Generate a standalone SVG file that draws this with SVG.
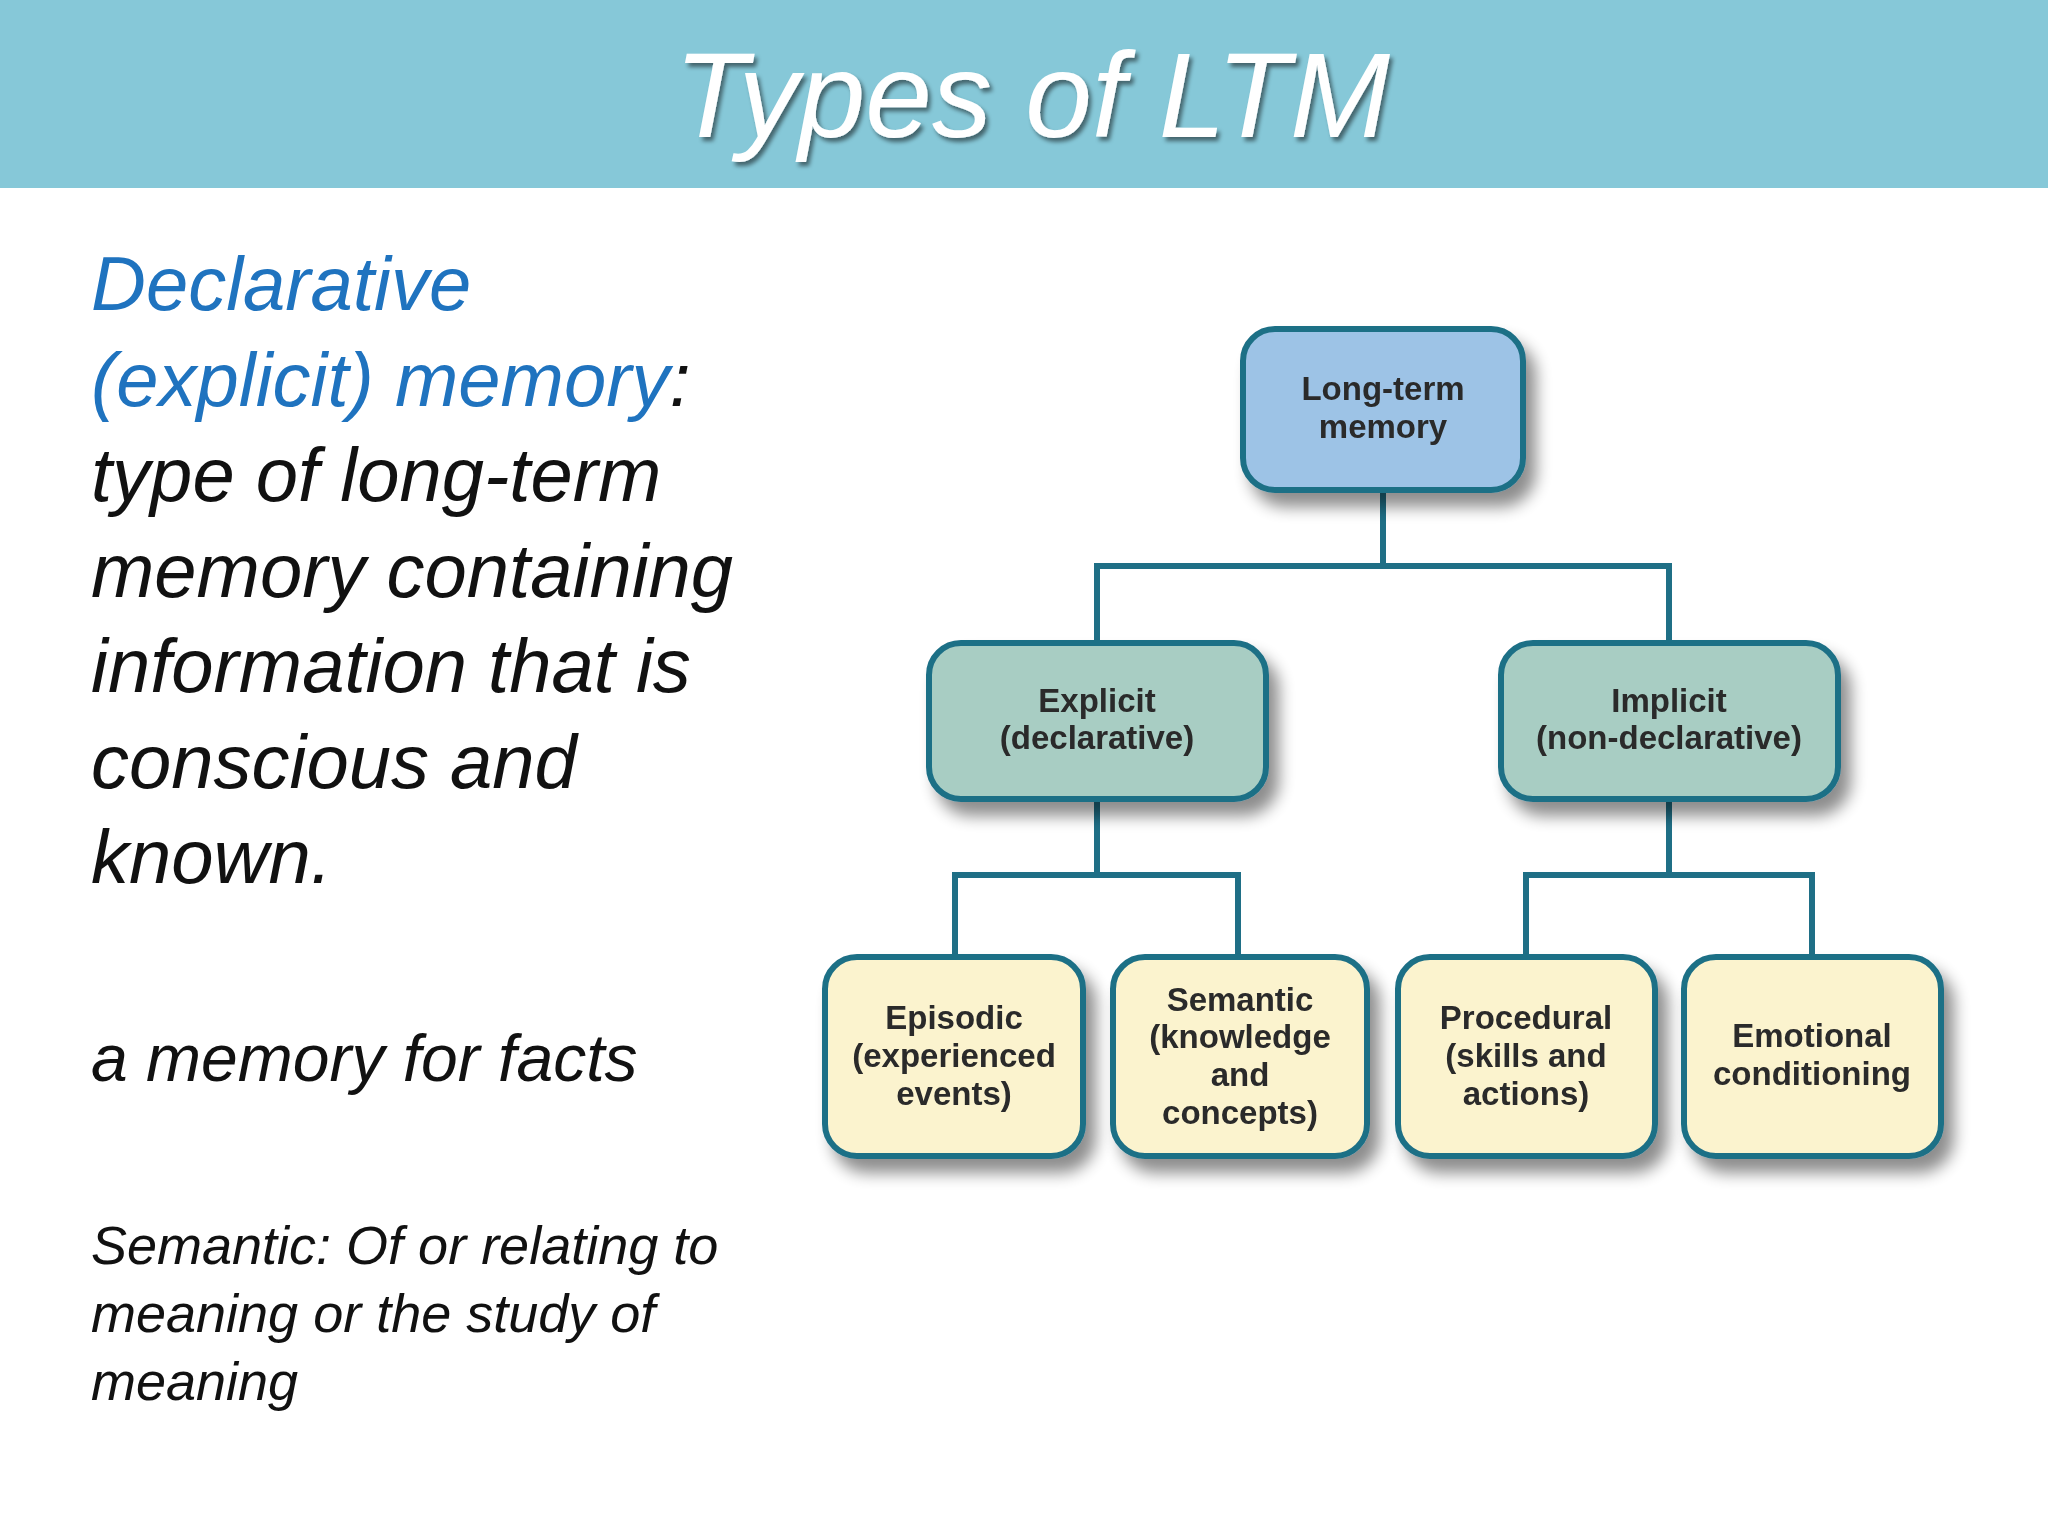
<svg xmlns="http://www.w3.org/2000/svg" width="2048" height="1536" viewBox="0 0 2048 1536">
<style>
.n{stroke:#1F6F86;stroke-width:6}
.t{font-family:"Liberation Sans",Arial,sans-serif;font-weight:bold;font-size:33px;fill:#2a2a2a;text-anchor:middle}
.b{font-family:"Liberation Sans",Arial,sans-serif;font-style:italic;font-size:76px;fill:#111}
.c{fill:none;stroke:#1F6F86;stroke-width:6}
</style>
<defs><filter id="sh" x="-20%" y="-20%" width="150%" height="150%"><feGaussianBlur in="SourceAlpha" stdDeviation="8"/><feOffset dx="10" dy="14"/><feComponentTransfer><feFuncA type="linear" slope="0.45"/></feComponentTransfer><feMerge><feMergeNode/><feMergeNode in="SourceGraphic"/></feMerge></filter>
<filter id="ts"><feGaussianBlur in="SourceAlpha" stdDeviation="2"/><feOffset dx="3" dy="4"/><feComponentTransfer><feFuncA type="linear" slope="0.5"/></feComponentTransfer><feMerge><feMergeNode/><feMergeNode in="SourceGraphic"/></feMerge></filter></defs>
<rect width="2048" height="1536" fill="#fff"/>
<rect width="2048" height="188" fill="#86C8D8"/>
<text x="1032" y="137" font-family="Liberation Sans,Arial,sans-serif" font-style="italic" font-size="120" fill="#fff" text-anchor="middle" filter="url(#ts)">Types of LTM</text>
<g id="left-text">
<text class="b" x="91" y="310" fill="#1F73BF" style="fill:#1F73BF">Declarative</text>
<text class="b" x="91" y="406"><tspan style="fill:#1F73BF">(explicit) memory</tspan>:</text>
<text class="b" x="91" y="501">type of long-term</text>
<text class="b" x="91" y="597">memory containing</text>
<text class="b" x="91" y="692">information that is</text>
<text class="b" x="91" y="788">conscious and</text>
<text class="b" x="91" y="883">known.</text>
<text class="b" x="91" y="1081" style="font-size:66px">a memory for facts</text>
<text class="b" x="91" y="1264" style="font-size:54px">Semantic: Of or relating to</text>
<text class="b" x="91" y="1332" style="font-size:54px">meaning or the study of</text>
<text class="b" x="91" y="1400" style="font-size:54px">meaning</text>
</g>
<g id="connectors">
<path class="c" d="M1383 490V566M1097 643V566H1669V643M1097 799V875M955 957V875H1238V957M1669 799V875M1526 957V875H1812V957"/>
</g>
<g id="ltm" filter="url(#sh)"><rect class="n" x="1243" y="329" width="280" height="161" rx="32" fill="#9DC3E6"/>
<text class="t" x="1383" y="400">Long-term</text><text class="t" x="1383" y="438">memory</text></g>
<g id="explicit" filter="url(#sh)"><rect class="n" x="929" y="643" width="337" height="156" rx="32" fill="#A8CDC3"/>
<text class="t" x="1097" y="712">Explicit</text><text class="t" x="1097" y="749">(declarative)</text></g>
<g id="implicit" filter="url(#sh)"><rect class="n" x="1501" y="643" width="337" height="156" rx="32" fill="#A8CDC3"/>
<text class="t" x="1669" y="712">Implicit</text><text class="t" x="1669" y="749">(non-declarative)</text></g>
<g id="episodic" filter="url(#sh)"><rect class="n" x="825" y="957" width="258" height="199" rx="32" fill="#FBF3CE"/>
<text class="t" x="954" y="1029">Episodic</text><text class="t" x="954" y="1067">(experienced</text><text class="t" x="954" y="1105">events)</text></g>
<g id="semantic" filter="url(#sh)"><rect class="n" x="1113" y="957" width="254" height="199" rx="32" fill="#FBF3CE"/>
<text class="t" x="1240" y="1011">Semantic</text><text class="t" x="1240" y="1048">(knowledge</text><text class="t" x="1240" y="1086">and</text><text class="t" x="1240" y="1124">concepts)</text></g>
<g id="procedural" filter="url(#sh)"><rect class="n" x="1398" y="957" width="257" height="199" rx="32" fill="#FBF3CE"/>
<text class="t" x="1526" y="1029">Procedural</text><text class="t" x="1526" y="1067">(skills and</text><text class="t" x="1526" y="1105">actions)</text></g>
<g id="emotional" filter="url(#sh)"><rect class="n" x="1684" y="957" width="257" height="199" rx="32" fill="#FBF3CE"/>
<text class="t" x="1812" y="1047">Emotional</text><text class="t" x="1812" y="1085">conditioning</text></g>
</svg>
